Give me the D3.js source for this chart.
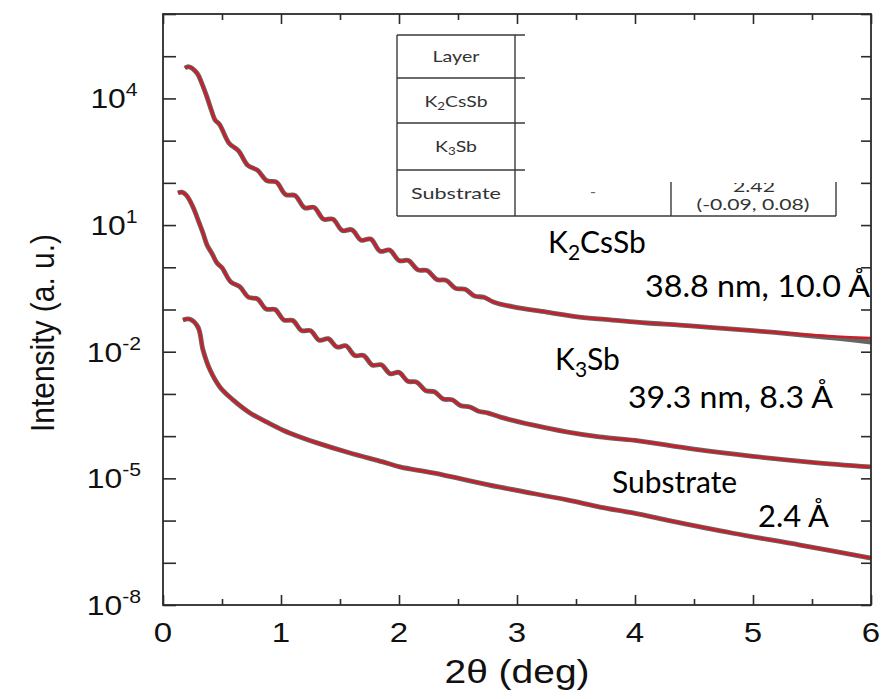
<!DOCTYPE html>
<html>
<head>
<meta charset="utf-8">
<script src="https://cdn.jsdelivr.net/npm/d3@7"></script>
<style>
  body { margin: 0; background: #fff; }
  svg { display: block; }
</style>
</head>
<body>
<svg id="chart" width="884" height="699"></svg>
<script>
// ---------- data ----------
// X-ray reflectivity: 2θ (deg) vs log10 intensity (a.u.), curves offset vertically
const xMajorTicks = [0, 1, 2, 3, 4, 5, 6];
const xMinorTicks = [0.5, 1.5, 2.5, 3.5, 4.5, 5.5];
const yLabelExponents = [4, 1, -2, -5, -8];

const k2cssbAngle = [0.186, 0.22, 0.288, 0.33, 0.373, 0.41, 0.441, 0.48, 0.56, 0.64, 0.72, 0.80, 0.88, 0.96,
  1.04, 1.12, 1.20, 1.28, 1.36, 1.44, 1.52, 1.60, 1.68, 1.76, 1.84, 1.92, 2.00, 2.08, 2.16, 2.24, 2.32,
  2.40, 2.48, 2.56, 2.64, 2.72, 2.80, 2.97, 3.25, 3.53, 3.81, 4.10, 4.38, 4.66, 5.00, 5.40, 5.70, 6.00];
const k2cssbLogI = [4.72, 4.75, 4.60, 4.35, 4.03, 3.72, 3.49, 3.38, 2.94, 2.76, 2.41, 2.30, 2.05, 2.02,
  1.72, 1.70, 1.41, 1.42, 1.14, 1.14, 0.87, 0.89, 0.64, 0.67, 0.38, 0.41, 0.16, 0.16, -0.06, -0.08, -0.29,
  -0.31, -0.50, -0.52, -0.68, -0.71, -0.82, -0.94, -1.06, -1.18, -1.25, -1.32, -1.37, -1.43, -1.50, -1.59, -1.64, -1.68];
// measured points that drift below the fit at the high-angle end
const k2cssbTailAngle = [5.40, 5.70, 6.00];
const k2cssbTailLogI = [-1.60, -1.68, -1.77];

const k3sbAngle = [0.127, 0.16, 0.20, 0.254, 0.30, 0.339, 0.373, 0.42, 0.458, 0.50, 0.575, 0.65, 0.725, 0.80,
  0.875, 0.95, 1.025, 1.10, 1.175, 1.25, 1.325, 1.40, 1.475, 1.55, 1.625, 1.70, 1.775, 1.85, 1.925, 2.00,
  2.075, 2.15, 2.225, 2.30, 2.375, 2.45, 2.525, 2.60, 2.675, 2.75, 2.86, 3.14, 3.42, 3.70, 4.00, 4.50, 5.00, 5.50, 6.00];
const k3sbLogI = [1.76, 1.78, 1.70, 1.43, 1.10, 0.81, 0.53, 0.30, 0.10, -0.01, -0.35, -0.46, -0.71, -0.75,
  -0.99, -1.00, -1.25, -1.26, -1.50, -1.50, -1.73, -1.69, -1.89, -1.86, -2.09, -2.09, -2.32, -2.31, -2.52, -2.49,
  -2.70, -2.72, -2.92, -2.95, -3.12, -3.14, -3.28, -3.31, -3.41, -3.45, -3.55, -3.74, -3.90, -4.02, -4.10, -4.31, -4.48, -4.62, -4.73];

const substrateAngle = [0.169, 0.229, 0.297, 0.339, 0.398, 0.483, 0.593, 0.737, 0.881, 1.017, 1.161, 1.305,
  1.585, 1.864, 2.008, 2.288, 2.856, 3.424, 3.703, 3.983, 4.27, 4.83, 5.40, 6.00];
const substrateLogI = [-1.25, -1.23, -1.42, -1.96, -2.43, -2.84, -3.14, -3.45, -3.67, -3.86, -4.02, -4.16,
  -4.40, -4.61, -4.73, -4.87, -5.21, -5.51, -5.68, -5.82, -5.99, -6.30, -6.58, -6.89];

const layerNames = ["K_2CsSb", "K_3Sb", "Substrate"];
const fitResults = ["38.8 nm, 10.0 Å", "39.3 nm, 8.3 Å", "2.4 Å"];
const tableRowLabels = ["Layer", "K_2CsSb", "K_3Sb", "Substrate"];
const substrateThickness = "-";
const substrateRoughness = ["2.42", "(-0.09, 0.08)"];

// ---------- layout ----------
const frame = { left: 163, right: 871, top: 14, bottom: 605 };
const svg = d3.select("#chart");
const x = d3.scaleLinear().domain([0, 6]).range([frame.left, frame.right]);
const y = d3.scaleLog().domain([1e-8, 1e6]).range([frame.bottom, frame.top]);

const axisColor = "#2b2b2b";
const tickFont = "'Liberation Sans', Arial, sans-serif";
const noteFont = "Lato, 'Open Sans', sans-serif";
const stretch = 1.18; // glyphs of the axis text are drawn a little wide

// write "K_2CsSb" style names with subscripts
function addFormula(textSel, name, subSize, subShift) {
  const parts = name.split(/_(\d)/);
  parts.forEach((p, i) => {
    if (!p) return;
    if (i % 2 === 1) {
      textSel.append("tspan").attr("font-size", subSize).attr("dy", subShift).text(p);
    } else {
      const t = textSel.append("tspan").text(p);
      if (i > 0) t.attr("dy", -subShift);
    }
  });
}

// ---------- inset table ----------
const tbl = svg.append("g").attr("class", "table");
const tl = 397, tc1 = 515, tc2 = 671, tr = 836;
const rowY = [35, 78, 123, 170, 216];
tbl.append("rect").attr("x", tl).attr("y", rowY[0]).attr("width", tr - tl).attr("height", rowY[4] - rowY[0]).attr("fill", "#fff");
function tline(x1, y1, x2, y2) {
  tbl.append("line").attr("x1", x1).attr("y1", y1).attr("x2", x2).attr("y2", y2)
    .attr("stroke", "#3a3a3a").attr("stroke-width", 1.4);
}
[0, 1, 2, 3].forEach(i => tline(tl, rowY[i], 525, rowY[i]));
tline(tl, rowY[4], tr, rowY[4]);
tline(tl, rowY[0], tl, rowY[4]);
tline(tc1, rowY[0], tc1, rowY[4]);
tline(tc2, 182, tc2, rowY[4]);
tline(tr, 182, tr, rowY[4]);

const rowBase = [62, 107, 152, 199];
const rowWidths = [47, 63, 42, 90];
tableRowLabels.forEach((name, i) => {
  const t = tbl.append("text").attr("x", (tl + tc1) / 2).attr("y", rowBase[i])
    .attr("text-anchor", "middle").attr("font-family", noteFont).attr("font-size", 16).attr("fill", "#333")
    .attr("textLength", rowWidths[i]).attr("lengthAdjust", "spacingAndGlyphs");
  addFormula(t, name, 11, 3);
});
tbl.append("text").attr("x", (tc1 + tc2) / 2).attr("y", 197).attr("text-anchor", "middle")
  .attr("font-family", noteFont).attr("font-size", 16).attr("fill", "#666").text(substrateThickness);
tbl.append("clipPath").attr("id", "cellClip").append("rect")
  .attr("x", tc2).attr("y", 183).attr("width", tr - tc2).attr("height", rowY[4] - 183);
const rough = tbl.append("g").attr("clip-path", "url(#cellClip)");
rough.append("text").attr("x", 754).attr("y", 192).attr("text-anchor", "middle")
  .attr("font-family", noteFont).attr("font-size", 16).attr("fill", "#333")
  .attr("textLength", 42).attr("lengthAdjust", "spacingAndGlyphs").text(substrateRoughness[0]);
rough.append("text").attr("x", 753).attr("y", 210).attr("text-anchor", "middle")
  .attr("font-family", noteFont).attr("font-size", 16).attr("fill", "#333")
  .attr("textLength", 113).attr("lengthAdjust", "spacingAndGlyphs").text(substrateRoughness[1]);

// ---------- curves ----------
const line = d3.line()
  .x(d => x(d[0]))
  .y(d => y(Math.pow(10, d[1])))
  .curve(d3.curveCatmullRom.alpha(0.5));
const zip = (a, b) => a.map((v, i) => [v, b[i]]);

const k2Fit = zip(k2cssbAngle, k2cssbLogI);
const k2Meas = k2Fit.filter(d => d[0] < 5.3).concat(zip(k2cssbTailAngle, k2cssbTailLogI));
const curves = [
  { meas: k2Meas, fit: k2Fit },
  { meas: zip(k3sbAngle, k3sbLogI), fit: zip(k3sbAngle, k3sbLogI) },
  { meas: zip(substrateAngle, substrateLogI), fit: zip(substrateAngle, substrateLogI) }
];
const plot = svg.append("g");
curves.forEach(c => {
  plot.append("path").attr("d", line(c.meas)).attr("fill", "none")
    .attr("stroke", "#4a4a4a").attr("stroke-width", 4.8).attr("stroke-linejoin", "round").attr("opacity", 0.85);
});
curves.forEach(c => {
  plot.append("path").attr("d", line(c.fit)).attr("fill", "none")
    .attr("stroke", "#c8202b").attr("stroke-width", 2.7).attr("stroke-linejoin", "round");
});

// ---------- frame and ticks ----------
const axes = svg.append("g");
function styleAxis(g) {
  g.select(".domain").remove();
  g.selectAll(".tick line").attr("stroke", axisColor).attr("stroke-width", 1.6);
  g.selectAll(".tick text").remove();
}
axes.append("g").attr("transform", `translate(0,${frame.bottom})`)
  .call(d3.axisBottom(x).tickValues(xMajorTicks).tickSize(-10)).call(styleAxis);
axes.append("g").attr("transform", `translate(0,${frame.bottom})`)
  .call(d3.axisBottom(x).tickValues(xMinorTicks).tickSize(-6)).call(styleAxis);
axes.append("g").attr("transform", `translate(0,${frame.top})`)
  .call(d3.axisTop(x).tickValues(xMajorTicks).tickSize(-10)).call(styleAxis);
axes.append("g").attr("transform", `translate(0,${frame.top})`)
  .call(d3.axisTop(x).tickValues(xMinorTicks).tickSize(-6)).call(styleAxis);
const decades = d3.range(-8, 7).map(e => Math.pow(10, e));
axes.append("g").attr("transform", `translate(${frame.left},0)`)
  .call(d3.axisLeft(y).tickValues(decades).tickSize(-13)).call(styleAxis);
axes.append("g").attr("transform", `translate(${frame.right},0)`)
  .call(d3.axisRight(y).tickValues(decades).tickSize(-10)).call(styleAxis);
axes.append("rect").attr("x", frame.left).attr("y", frame.top)
  .attr("width", frame.right - frame.left).attr("height", frame.bottom - frame.top)
  .attr("fill", "none").attr("stroke", axisColor).attr("stroke-width", 1.8);

// tick labels
xMajorTicks.forEach(v => {
  axes.append("text").attr("transform", `translate(${x(v)},642) scale(${stretch},1)`)
    .attr("text-anchor", "middle")
    .attr("font-family", tickFont).attr("font-size", 28).attr("fill", "#111").text(v);
});
yLabelExponents.forEach(e => {
  const t = axes.append("text")
    .attr("transform", `translate(114,${y(Math.pow(10, e)) + 10}) scale(${stretch},1)`)
    .attr("text-anchor", "middle").attr("font-family", tickFont).attr("font-size", 27).attr("fill", "#111");
  t.append("tspan").text("10");
  t.append("tspan").attr("font-size", 18).attr("dy", -12).text(e);
});

// axis titles
svg.append("text").attr("transform", `translate(${(frame.left + frame.right) / 2},683) scale(${stretch},1)`)
  .attr("text-anchor", "middle")
  .attr("font-family", tickFont).attr("font-size", 33).attr("fill", "#111").text("2θ (deg)");
svg.append("text").attr("transform", `translate(54,333) rotate(-90) scale(1,${stretch})`)
  .attr("text-anchor", "middle")
  .attr("font-family", tickFont)
  .attr("font-size", 28).attr("fill", "#111")
  .attr("textLength", 198).attr("lengthAdjust", "spacingAndGlyphs")
  .text("Intensity (a. u.)");

// ---------- fit annotations ----------
const notes = svg.append("g").attr("font-family", noteFont).attr("fill", "#000");
const namePos = [[548, 253], [555, 370], [612, 493]];
const resultPos = [[645, 297, 225], [628, 408, 205], [758, 527, 71]];
layerNames.forEach((n, i) => {
  const t = notes.append("text").attr("x", namePos[i][0]).attr("y", namePos[i][1]).attr("font-size", 30);
  addFormula(t, n, 21, 7);
});
fitResults.forEach((r, i) => {
  notes.append("text").attr("x", resultPos[i][0]).attr("y", resultPos[i][1]).attr("font-size", 30)
    .attr("textLength", resultPos[i][2]).attr("lengthAdjust", "spacingAndGlyphs").text(r);
});
</script>
</body>
</html>
